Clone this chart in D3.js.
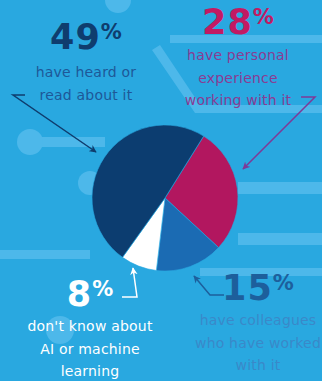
<!DOCTYPE html>
<html>
<head>
  <style>
    body { margin: 0; background: #29a8e0; }
    svg { display: block; }
    .pct { font-family: "DejaVu Sans", sans-serif; font-weight: bold; }
    .lbl { font-family: "DejaVu Sans", sans-serif; font-size: 14px; letter-spacing: 0.2px; }
    .deco { fill: #4db8ea; }
  </style>
</head>
<body>
  <script src="https://d3js.org/d3.v7.min.js"></script>
  <script>
    var categories = ["personal", "colleagues", "dontknow", "heard"];
    var values = [28, 15, 8, 49];
    var sliceColors = ["#b2175f", "#1b6bb3", "#ffffff", "#0c3d70"];
    var labelLines = [
      ["have personal", "experience", "working with it"],
      ["have colleagues", "who have worked", "with it"],
      ["don't know about", "AI or machine", "learning"],
      ["have heard or", "read about it"]
    ];
    var pctColors = ["#c21a63", "#1d5f9c", "#ffffff", "#0f3d6e"];
    var textColors = ["#8a3c93", "#3a88c9", "#ffffff", "#1e5898"];

    var width = 322, height = 381;
    var cx = 165, cy = 198, r = 73;

    var svg = d3.select("body").append("svg")
        .attr("width", width)
        .attr("height", height);

    svg.append("rect").attr("width", width).attr("height", height).attr("fill", "#29a8e0");

    // background circuit decoration
    var deco = svg.append("g").attr("class", "deco");
    deco.append("rect").attr("x", 30).attr("y", 137).attr("width", 75).attr("height", 10);
    deco.append("circle").attr("cx", 30).attr("cy", 142).attr("r", 13);
    deco.append("circle").attr("cx", 90).attr("cy", 183).attr("r", 12);
    deco.append("circle").attr("cx", 118).attr("cy", 0).attr("r", 13);
    deco.append("rect").attr("x", 238).attr("y", 182).attr("width", 84).attr("height", 12);
    deco.append("rect").attr("x", 238).attr("y", 233).attr("width", 84).attr("height", 12);
    deco.append("rect").attr("x", 170).attr("y", 35).attr("width", 152).attr("height", 8);
    deco.append("path").attr("d", "M160,45 L200,105 L322,105 L322,113 L195,113 L152,50 Z");
    deco.append("circle").attr("cx", 60).attr("cy", 330).attr("r", 14);
    deco.append("rect").attr("x", 0).attr("y", 250).attr("width", 90).attr("height", 9);
    deco.append("rect").attr("x", 200).attr("y", 268).attr("width", 122).attr("height", 8);

    var defs = svg.append("defs");
    [["navy", "#0f3d6e"], ["purple", "#7d3a98"], ["white", "#ffffff"], ["blue", "#1d5f9c"]].forEach(function(m) {
      defs.append("marker")
          .attr("id", "arrow-" + m[0])
          .attr("viewBox", "0 0 10 10")
          .attr("refX", 9).attr("refY", 5)
          .attr("markerWidth", 5).attr("markerHeight", 5)
          .attr("orient", "auto")
        .append("path")
          .attr("d", "M0,0 L10,5 L0,10 L3,5 Z")
          .attr("fill", m[1]);
    });

    var offset = 32 * Math.PI / 180;
    var pie = d3.pie().sort(null).startAngle(offset).endAngle(offset + 2 * Math.PI);
    var arc = d3.arc().innerRadius(0).outerRadius(r);

    svg.append("g")
        .attr("transform", "translate(" + cx + "," + cy + ")")
      .selectAll("path")
      .data(pie(values))
      .enter().append("path")
        .attr("d", arc)
        .attr("fill", function(d, i) { return sliceColors[i]; })
        .attr("stroke", "#29a8e0")
        .attr("stroke-width", 0.6);

    // labels: [x center, pct baseline, first text baseline]
    var labelPos = [[238, 34, 60], [258, 300, 325], [90, 306, 331], [86, 49, 77]];
    var lineH = 22.5;

    labelPos.forEach(function(p, i) {
      var t = svg.append("text")
          .attr("class", "pct")
          .attr("x", p[0]).attr("y", p[1])
          .attr("text-anchor", "middle")
          .attr("fill", pctColors[i]);
      t.append("tspan").attr("font-size", 35).attr("letter-spacing", 1).text(values[i]);
      t.append("tspan").attr("font-size", 21).attr("dy", -10).text("%");

      labelLines[i].forEach(function(line, j) {
        svg.append("text")
            .attr("class", "lbl")
            .attr("x", p[0]).attr("y", p[2] + j * lineH)
            .attr("text-anchor", "middle")
            .attr("fill", textColors[i])
            .text(line);
      });
    });

    // arrows
    var line = d3.line();
    var arrows = [
      [[[25, 95], [13, 95], [96, 152]], "#0f3d6e", "navy"],
      [[[301, 97], [315, 97], [243, 169]], "#7d3a98", "purple"],
      [[[122, 297], [137, 297], [133, 268]], "#ffffff", "white"],
      [[[224, 295], [210, 295], [194, 276]], "#1d5f9c", "blue"]
    ];
    arrows.forEach(function(a) {
      svg.append("path")
          .attr("d", line(a[0]))
          .attr("fill", "none")
          .attr("stroke", a[1])
          .attr("stroke-width", 1.5)
          .attr("marker-end", "url(#arrow-" + a[2] + ")");
    });
  </script>
</body>
</html>
